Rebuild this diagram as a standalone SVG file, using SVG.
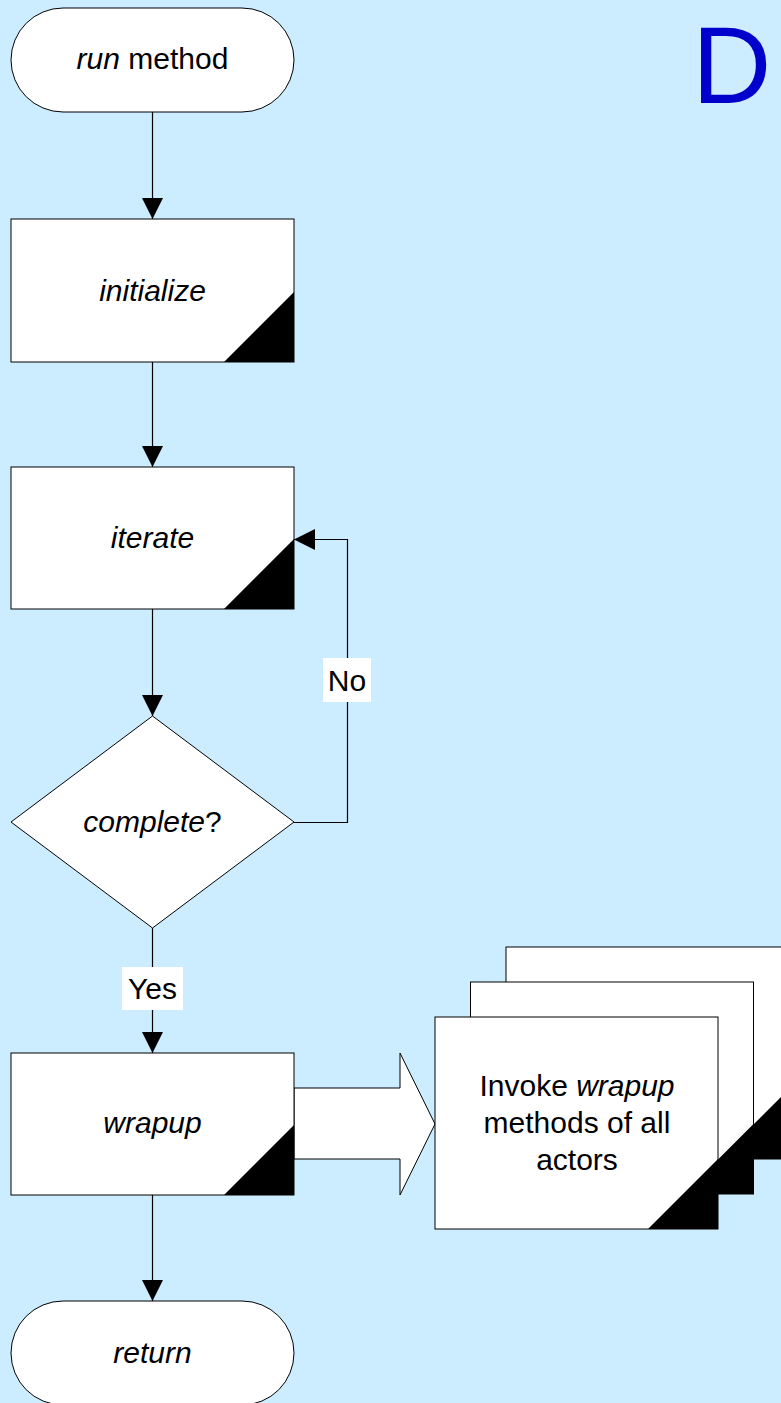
<svg xmlns="http://www.w3.org/2000/svg" width="781" height="1403" viewBox="0 0 781 1403">
  <defs>
    <style>
      .shape { fill: #ffffff; stroke: #000000; stroke-width: 1; }
      .corner { fill: #000000; stroke: none; }
      .link { fill: none; stroke: #000000; stroke-width: 1.2; }
      .lbl { font-family: "Liberation Sans", Arial, sans-serif; font-size: 30px; fill: #000000; text-anchor: middle; }
      .it { font-style: italic; }
      .tagbg { fill: #ffffff; stroke: none; }
    </style>
    <marker id="head" viewBox="0 0 21 21" markerWidth="21" markerHeight="21" refX="21" refY="10.5" orient="auto" markerUnits="userSpaceOnUse">
      <path d="M0,0 L21,10.5 L0,21 Z" fill="#000000"/>
    </marker>
  </defs>

  <rect x="0" y="0" width="781" height="1403" fill="#CCECFF"/>

  <!-- slide letter -->
  <text x="692" y="103" font-family="Liberation Sans, Arial, sans-serif" font-size="110" fill="#0000CC">D</text>

  <!-- connectors -->
  <g id="connectors">
    <line class="link" x1="152.5" y1="112" x2="152.5" y2="219" marker-end="url(#head)"/>
    <line class="link" x1="152.5" y1="362" x2="152.5" y2="467" marker-end="url(#head)"/>
    <line class="link" x1="152.5" y1="609" x2="152.5" y2="716" marker-end="url(#head)"/>
    <polyline class="link" points="294,822.5 347.5,822.5 347.5,539.5 294,539.5" marker-end="url(#head)"/>
    <line class="link" x1="152.5" y1="928" x2="152.5" y2="1053" marker-end="url(#head)"/>
    <line class="link" x1="152.5" y1="1195" x2="152.5" y2="1301" marker-end="url(#head)"/>
    <g id="label-no">
      <rect class="tagbg" x="323" y="658" width="48" height="44"/>
      <text class="lbl" x="347" y="691">No</text>
    </g>
    <g id="label-yes">
      <rect class="tagbg" x="122" y="967" width="61" height="43"/>
      <text class="lbl" x="152.5" y="999">Yes</text>
    </g>
    <!-- block arrow into the actor stack -->
    <polygon id="block-arrow" class="shape" points="294,1088 400,1088 400,1053 435,1124 400,1195 400,1159 294,1159"/>
  </g>

  <g id="node-run">
    <rect class="shape" x="11" y="8" width="283" height="104" rx="52" ry="52"/>
    <text class="lbl" x="152.5" y="69"><tspan class="it">run</tspan> method</text>
  </g>

  <g id="node-initialize">
    <rect class="shape" x="11" y="219" width="283" height="143"/>
    <polygon class="corner" points="224,362 294,292 294,362"/>
    <text class="lbl it" x="152.5" y="301">initialize</text>
  </g>

  <g id="node-iterate">
    <rect class="shape" x="11" y="467" width="283" height="142"/>
    <polygon class="corner" points="224,609 294,539 294,609"/>
    <text class="lbl it" x="152.5" y="548">iterate</text>
  </g>

  <g id="node-complete">
    <polygon class="shape" points="152.5,716 294,822 152.5,928 11,822"/>
    <text class="lbl" x="152.5" y="832"><tspan class="it">complete</tspan>?</text>
  </g>

  <g id="node-wrapup">
    <rect class="shape" x="11" y="1053" width="283" height="142"/>
    <polygon class="corner" points="224,1195 294,1125 294,1195"/>
    <text class="lbl it" x="152.5" y="1133">wrapup</text>
  </g>

  <g id="node-return">
    <rect class="shape" x="11" y="1301" width="283" height="104" rx="52" ry="52"/>
    <text class="lbl it" x="152.5" y="1363">return</text>
  </g>

  <g id="node-actors">
    <rect class="shape" x="506" y="947" width="283" height="212"/>
    <polygon class="corner" points="719,1159 789,1089 789,1159"/>
    <rect class="shape" x="470.5" y="982" width="283" height="212"/>
    <polygon class="corner" points="683.5,1194 753.5,1124 753.5,1194"/>
    <rect class="shape" x="435" y="1017" width="283" height="212"/>
    <polygon class="corner" points="648,1229 718,1159 718,1229"/>
    <text class="lbl" x="577" y="1096">Invoke <tspan class="it">wrapup</tspan></text>
    <text class="lbl" x="577" y="1133">methods of all</text>
    <text class="lbl" x="577" y="1170">actors</text>
  </g>
</svg>
